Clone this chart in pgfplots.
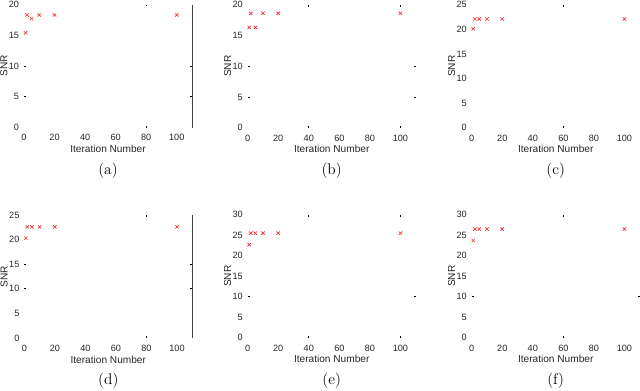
\documentclass[border=0pt]{standalone}
\usepackage{fontspec}
\setsansfont{Liberation Sans}
\usepackage{pgfplots}
\pgfplotsset{compat=1.18}

\pgfplotsset{
  snr/.style={
    scale only axis,width=4.2cm,height=3.075cm,anchor=south west,
    xmin=0,xmax=110,ymin=0,clip=false,
    xtick={0,20,...,100},
    axis line style={draw=none},
    major tick length=0pt,
    /pgf/number format/assume math mode=true,
    tick label style={font=\sffamily\fontsize{6.5}{7.5}\selectfont,black!85},
    xticklabel style={yshift=-1.5pt},
    label style={font=\sffamily\fontsize{7.2}{8}\selectfont,black!85},
    xlabel={Iteration Number},ylabel={SNR},
    xlabel style={at={(axis description cs:0.5,-0.175)},anchor=center},
    ylabel style={at={(axis description cs:-0.12,0.5)},anchor=center},
    extra tick style={major tick length=1.4pt,tick style={black,line width=0.5pt}},
    extra x tick labels={},extra y tick labels={},
  },
  snrmark/.style={only marks,mark=x,mark size=1.7pt,red!85,mark options={line width=0.45pt}},
}
\tikzset{capt/.style={font=\fontsize{11}{13}\selectfont}}

\begin{document}
\begin{tikzpicture}
\useasboundingbox (0,0) rectangle (16,-9.75);

% (a)
\begin{axis}[snr,at={(0.6cm,-3.1875cm)},ymax=20,ytick={0,5,...,20},extra x ticks={80},extra y ticks={5,10}]
\addplot[snrmark] coordinates {(1,15.4) (2,18.3) (5,17.7) (10,18.3) (20,18.3) (100,18.3)};
\draw[black!75,line width=0.5pt] (rel axis cs:1,0) -- (rel axis cs:1,1);
\node[capt] at (axis description cs:0.5,-0.35) {(a)};
\end{axis}

% (b)
\begin{axis}[snr,at={(6.1925cm,-3.1925cm)},ymax=20,ytick={0,5,...,20},extra x ticks={40,100},extra y ticks={5,10}]
\addplot[snrmark] coordinates {(1,16.3) (2,18.6) (5,16.3) (10,18.6) (20,18.6) (100,18.6)};
\node[capt] at (axis description cs:0.5,-0.35) {(b)};
\end{axis}

% (c)
\begin{axis}[snr,at={(11.7925cm,-3.1925cm)},ymax=25,ytick={0,5,...,25},extra x ticks={60}]
\addplot[snrmark] coordinates {(1,20.1) (2,22.1) (5,22.1) (10,22.1) (20,22.1) (100,22.1)};
\node[capt] at (axis description cs:0.5,-0.35) {(c)};
\end{axis}

% (d)
\begin{axis}[snr,at={(0.6075cm,-8.45cm)},ymax=25,ytick={0,5,...,25},extra x ticks={80},extra y ticks={10,15}]
\addplot[snrmark] coordinates {(1,20.3) (2,22.6) (5,22.6) (10,22.6) (20,22.6) (100,22.6)};
\draw[black!75,line width=0.5pt] (rel axis cs:1,0) -- (rel axis cs:1,1);
\node[capt] at (axis description cs:0.5,-0.35) {(d)};
\end{axis}

% (e)
\begin{axis}[snr,at={(6.1925cm,-8.4425cm)},ymax=30,ytick={0,5,...,30},extra x ticks={40,100},extra y ticks={10}]
\addplot[snrmark] coordinates {(1,22.7) (2,25.5) (5,25.5) (10,25.5) (20,25.5) (100,25.5)};
\node[capt] at (axis description cs:0.5,-0.35) {(e)};
\end{axis}

% (f)
\begin{axis}[snr,at={(11.7925cm,-8.4425cm)},ymax=30,ytick={0,5,...,30},extra x ticks={60},extra y ticks={10}]
\addplot[snrmark] coordinates {(1,23.7) (2,26.5) (5,26.5) (10,26.5) (20,26.5) (100,26.5)};
\node[capt] at (axis description cs:0.5,-0.35) {(f)};
\end{axis}
\end{tikzpicture}
\end{document}
